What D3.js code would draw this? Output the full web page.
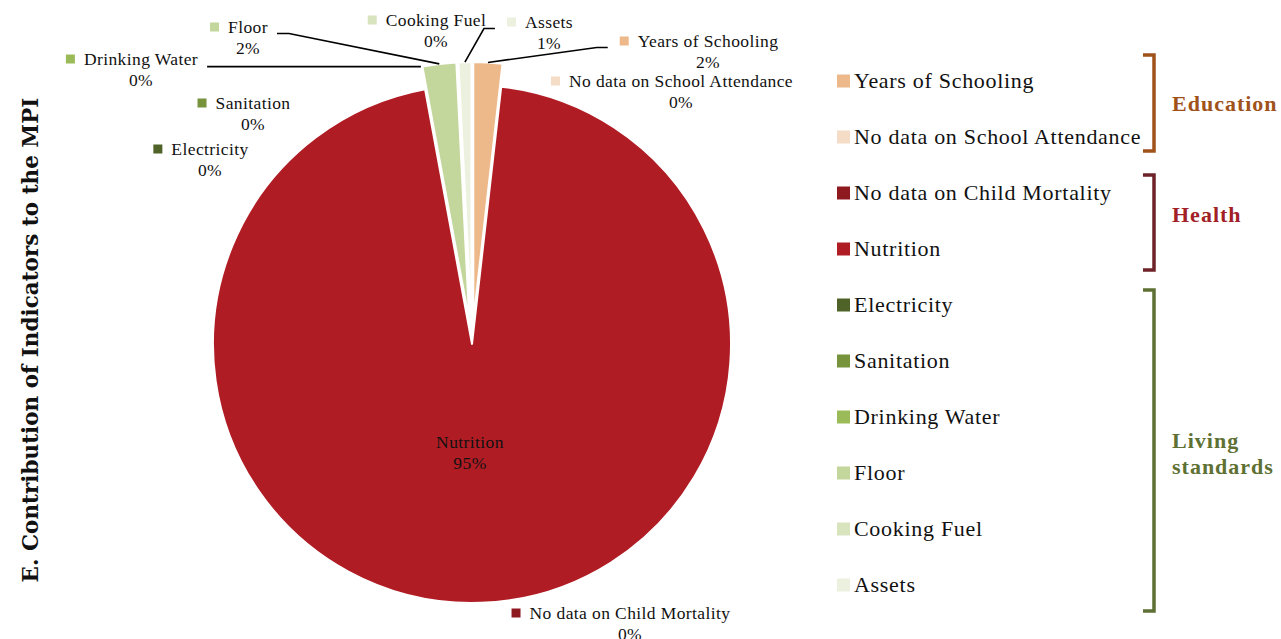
<!DOCTYPE html>
<html><head><meta charset="utf-8">
<script src="https://cdn.jsdelivr.net/npm/d3@7"></script>
<style>
html,body{margin:0;padding:0;background:#fff;}
svg{display:block;font-family:"Liberation Serif","Times New Roman",serif;}
</style></head>
<body>
<svg id="chart" width="1281" height="639"></svg>
<script>
// ---- data ----
const categories = ["Years of Schooling","No data on School Attendance","No data on Child Mortality","Nutrition","Electricity","Sanitation","Drinking Water","Floor","Cooking Fuel","Assets"];
const values = [1.8, 0, 0, 95.3, 0, 0, 0, 2.1, 0, 0.8];
const colors = ["#EDB98A","#F5DCC6","#8E1A20","#B01C24","#4F6228","#77933C","#9BBB59","#C3D69B","#D7E4BD","#EBF1DE"];
const groupNames = [["Education"],["Health"],["Living","standards"]];
const groupMembers = [[0,1],[2,3],[4,5,6,7,8,9]];
const groupColors = ["#A0521B","#6E2328","#5E7033"];
const groupTextColors = ["#A0521B","#A21F27","#5E7033"];
const title = "E. Contribution of Indicators to the MPI";

// ---- layout (positions only) ----
const cx = 472, cy = 344, R = 259, explodeDist = 23;
const labelPos = {
  "Years of Schooling": {x:708, y:41, leader:"left"},
  "No data on School Attendance": {x:681, y:81},
  "No data on Child Mortality": {x:630, y:613},
  "Nutrition": {x:470, y:442, noMarker:true},
  "Electricity": {x:210, y:149},
  "Sanitation": {x:253, y:103},
  "Drinking Water": {x:141, y:59, leader:"right", flat:true},
  "Floor": {x:248, y:27, leader:"right"},
  "Cooking Fuel": {x:436, y:20},
  "Assets": {x:549, y:22, leader:"left"}
};
const bracketPad = [[26,14],[18,21],[15,26]];
const groupLabelY = [104, 215, 454];

const svg = d3.select("#chart");
const total = d3.sum(values);
const fmt = d3.format(".0%");
const data = categories.map((c,i)=>({name:c, value:values[i], color:colors[i], i}));

const pie = d3.pie().value(d=>d.value).sort(null).startAngle(0).endAngle(2*Math.PI);
const arcs = pie(data);
const arc = d3.arc().innerRadius(0).outerRadius(R);
const explode = a => a.data.name === "Nutrition" ? 0 : explodeDist;
const offs = a => { const m=(a.startAngle+a.endAngle)/2, e=explode(a); return [e*Math.sin(m), -e*Math.cos(m)]; };

const g = svg.append("g").attr("transform",`translate(${cx},${cy})`);
g.selectAll("path").data(arcs.filter(a=>a.value>0)).join("path")
  .attr("d",arc)
  .attr("transform",a=>{const o=offs(a);return `translate(${o[0]},${o[1]})`;})
  .attr("fill",a=>a.data.color)
  .attr("stroke","#fff").attr("stroke-width",2).attr("stroke-linejoin","round");

// data labels
const fs = 17.5, lh = 21, ls = 0.4;
const lg = svg.append("g");
arcs.forEach(a=>{
  const p = labelPos[a.data.name];
  const t = lg.append("text").attr("x",p.x).attr("y",p.y).attr("dy","0.33em")
    .attr("text-anchor","middle").attr("font-size",fs).attr("letter-spacing",ls).attr("fill","#111").text(a.data.name);
  lg.append("text").attr("x",p.x).attr("y",p.y+lh).attr("dy","0.33em")
    .attr("text-anchor","middle").attr("font-size",fs).attr("letter-spacing",ls).attr("fill","#111").text(fmt(a.data.value/total));
  const bb = t.node().getBBox();
  if(!p.noMarker){
    lg.append("rect").attr("x",bb.x-18).attr("y",p.y-4.5).attr("width",9).attr("height",9).attr("fill",a.data.color);
  }
  if(p.leader){
    const m=(a.startAngle+a.endAngle)/2, o=offs(a);
    const ex = cx + o[0] + R*Math.sin(m), ey = cy + o[1] - R*Math.cos(m);
    const ly = p.y + lh/2 - 4;
    let pts;
    if(p.leader==="right"){
      const sx = bb.x+bb.width+9;
      pts = p.flat ? [[sx,ey],[ex,ey]] : [[sx,ly],[sx+12,ly],[ex,ey]];
    } else {
      const sx = bb.x-18-12;
      pts = [[sx,ly],[sx-11,ly],[ex,ey]];
    }
    lg.append("path").attr("d",d3.line()(pts)).attr("fill","none").attr("stroke","#000").attr("stroke-width",1.6);
  }
});

// legend
const legY = d3.scalePoint().domain(categories).range([81, 585]);
const leg = svg.append("g");
data.forEach(d=>{
  const y = legY(d.name);
  leg.append("rect").attr("x",837).attr("y",y-6.5).attr("width",13).attr("height",13).attr("fill",d.color);
  leg.append("text").attr("x",854).attr("y",y).attr("dy","0.33em").attr("font-size",22).attr("letter-spacing",0.7)
    .attr("fill","#111").text(d.name);
});

// brackets
groupMembers.forEach((mem,gi)=>{
  const y1 = legY(categories[mem[0]]) - bracketPad[gi][0], y2 = legY(categories[mem[mem.length-1]]) + bracketPad[gi][1];
  const bx = 1154;
  svg.append("path").attr("d",`M1143,${y1}H${bx}V${y2}H1143`).attr("fill","none")
    .attr("stroke",groupColors[gi]).attr("stroke-width",3.5);
  const lines = groupNames[gi], my = groupLabelY[gi];
  lines.forEach((ln,li)=>{
    svg.append("text").attr("x",1172).attr("y",my+(li-(lines.length-1)/2)*26).attr("dy","0.33em")
      .attr("font-size",22).attr("letter-spacing",1).attr("font-weight","bold").attr("fill",groupTextColors[gi]).text(ln);
  });
});

// title
svg.append("text").attr("transform","translate(30,340) rotate(-90)").attr("text-anchor","middle")
  .attr("dy","0.35em").attr("font-family","'DejaVu Serif',serif").attr("font-size",21.5)
  .attr("font-weight","bold").attr("fill","#111").text(title);
</script>
</body></html>
